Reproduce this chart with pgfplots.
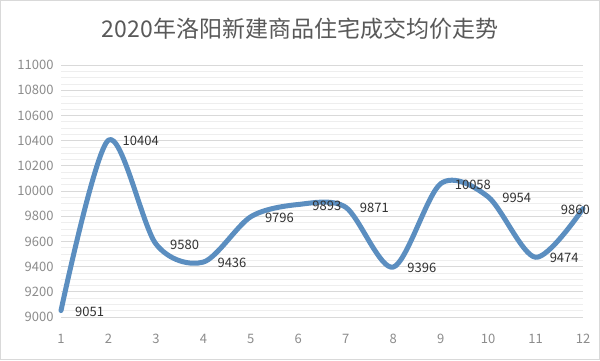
\documentclass[border=0pt]{standalone}
\usepackage{fontspec}
\setmainfont{Noto Sans CJK SC}
\usepackage{pgfplots}
\pgfplotsset{compat=1.18}
\definecolor{linec}{RGB}{91,142,192}
\definecolor{gridc}{RGB}{217,217,217}
\definecolor{tickc}{RGB}{140,140,140}
\definecolor{titlec}{RGB}{89,89,89}
\definecolor{labc}{RGB}{50,50,50}
\begin{document}
\begin{tikzpicture}[x=1pt,y=1pt]
\useasboundingbox (0,0) rectangle (600,360);
\fill[white] (0,0) rectangle (600,360);
\draw[gridc] (0.5,0.5) rectangle (599.5,359.5);
\node[font=\fontsize{23}{26}\selectfont, text=titlec] at (300,331) {2020年洛阳新建商品住宅成交均价走势};
\begin{axis}[
  at={(61pt,43pt)}, anchor=south west, scale only axis,
  width=522pt, height=252pt,
  xmin=1, xmax=12, ymin=9000, ymax=11000,
  xtick={1,...,12}, ytick={9000,9200,...,11000},
  scaled y ticks=false,
  yticklabel={\pgfmathprintnumber[fixed,precision=0,1000 sep={}]{\tick}},
  minor y tick num=3,
  ymajorgrids, yminorgrids,
  major grid style={gridc, line width=0.8pt},
  minor grid style={gridc!45, line width=0.6pt},
  axis line style={draw=none},
  major tick length=0pt, minor tick length=0pt,
  /pgf/number format/assume math mode=true,
  /pgf/number format/1000 sep={},
  tick label style={font=\fontsize{13}{15}\selectfont, text=tickc},
  xticklabel style={yshift=-14pt},
  yticklabel style={xshift=-4pt},
  clip=false,
]
\addplot[linec, line width=5pt, smooth, line cap=round, line join=round] coordinates {
(1,9051) (2,10404) (3,9580) (4,9436) (5,9796) (6,9893) (7,9871) (8,9396) (9,10058) (10,9954) (11,9474) (12,9860)};
\addplot[draw=none, nodes near coords, point meta=explicit symbolic,
  every node near coord/.style={anchor=west, xshift=13pt, yshift=-1pt, inner sep=1pt, font=\fontsize{13}{15}\selectfont, text=labc}] coordinates {
(1,9051) [9051] (2,10404) [10404] (3,9580) [9580] (4,9436) [9436] (5,9796) [9796] (6,9893) [9893] (7,9871) [9871] (8,9396) [9396] (9,10058) [10058] (10,9954) [9954] (11,9474) [9474]};
\addplot[draw=none, nodes near coords, point meta=explicit symbolic,
  every node near coord/.style={anchor=east, xshift=8pt, yshift=-1pt, inner sep=1pt, font=\fontsize{13}{15}\selectfont, text=labc}] coordinates {
(12,9860) [9860]};
\end{axis}
\end{tikzpicture}
\end{document}
